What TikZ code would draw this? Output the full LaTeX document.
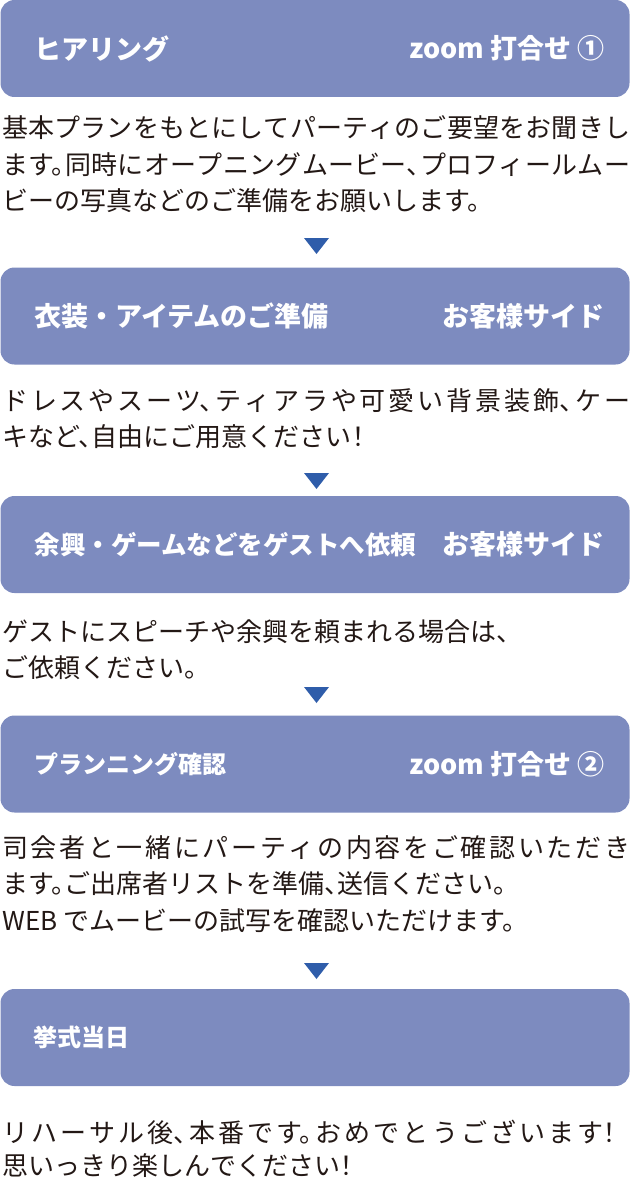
\documentclass[tikz,border=0pt]{standalone}
\usepackage{fontspec}
\usetikzlibrary{positioning}
\newfontfamily\jpfont{Noto Sans CJK JP}
\newfontfamily\jpbody[RawFeature=+halt]{Noto Sans CJK JP}
\XeTeXlinebreaklocale "ja"
\XeTeXlinebreakskip=0pt plus 4pt minus 1pt
\definecolor{boxblue}{HTML}{7D8BBF}
\definecolor{tipblue}{HTML}{2F5DAA}
\definecolor{ink}{HTML}{231815}

\begin{document}
\begin{tikzpicture}[x=1pt,y=-1pt,
  stepbox/.style={fill=boxblue, rounded corners=14pt, minimum width=629pt, minimum height=97pt, inner sep=0},
  steptitle/.style={text=white, inner sep=0, font=\jpfont\bfseries\fontsize{27pt}{30pt}\selectfont},
  stepsmall/.style={steptitle, font=\jpfont\bfseries\fontsize{24pt}{28pt}\selectfont},
  stepnote/.style={anchor=base west, inner sep=0, text width=628pt, align=justify, text=ink, font=\jpbody\fontsize{26pt}{36.5pt}\selectfont}]
\useasboundingbox (0,0) rectangle (630,1180);
\foreach \i/\y in {1/48.5,2/316,3/544.5,4/764,5/1037.5}
  \node[stepbox] (b\i) at (315,\y) {};
\foreach \y in {238,473,687,963}
  \fill[tipblue] (304,\y) -- (329,\y) -- (316.5,\y+16) -- cycle;

\node[steptitle, right=34pt of b1.west] (t1) {ヒアリング};
\node[steptitle, left=25pt of b1.east] (r1) {zoom 打合せ ①};
\node[steptitle, right=34pt of b2.west] (t2) {衣装・アイテムのご準備};
\node[steptitle, left=25pt of b2.east] (r2) {お客様サイド};
\node[steptitle, font=\jpfont\bfseries\fontsize{25.5pt}{30pt}\selectfont, right=34pt of b3.west] (t3) {余興・ゲームなどをゲストへ依頼};
\node[steptitle, left=25pt of b3.east] (r3) {お客様サイド};
\node[stepsmall, right=34pt of b4.west] (t4) {プランニング確認};
\node[steptitle, left=25pt of b4.east] (r4) {zoom 打合せ ②};
\node[stepsmall, right=33pt of b5.west] (t5) {挙式当日};

\node[stepnote] (d1) at (2,138) {基本プランをもとにしてパーティのご要望をお聞きし\linebreak ます。同時にオープニングムービー、プロフィールムー\linebreak ビーの写真などのご準備をお願いします。};
\node[stepnote] (d2) at (2,410) {ドレスやスーツ、ティアラや可愛い背景装飾、ケー\linebreak キなど、自由にご用意ください！};
\node[stepnote] (d3) at (2,641) {ゲストにスピーチや余興を頼まれる場合は、\\ご依頼ください。};
\node[stepnote] (d4) at (2,857) {司会者と一緒にパーティの内容をご確認いただき\linebreak ます。ご出席者リストを準備、送信ください。\\WEB でムービーの試写を確認いただけます。};
\node[stepnote, text width=614pt, font=\jpbody\fontsize{26pt}{33pt}\selectfont] (d5) at (2,1142) {リハーサル後、本番です。おめでとうございます！\linebreak 思いっきり楽しんでください！};
\end{tikzpicture}
\end{document}
